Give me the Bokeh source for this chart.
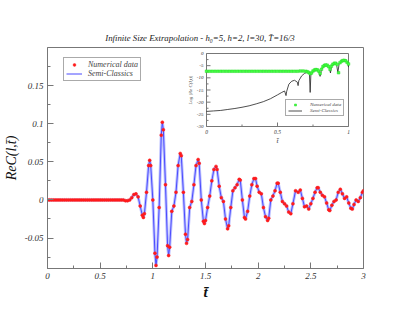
from bokeh.plotting import figure
from bokeh.models import Range1d, FixedTicker, Legend, LegendItem, LinearAxis
from bokeh.core.properties import value
from bokeh.embed import file_html
from bokeh.resources import INLINE
import math

# ---------------- data ----------------
t_num = [0.00, 0.02, 0.04, 0.06, 0.08, 0.10, 0.12, 0.14, 0.16, 0.18,
         0.20, 0.22, 0.24, 0.26, 0.28, 0.30, 0.32, 0.34, 0.36, 0.38,
         0.40, 0.42, 0.44, 0.46, 0.48, 0.50, 0.52, 0.54, 0.56, 0.58,
         0.60, 0.62, 0.64, 0.66, 0.68, 0.70, 0.72, 0.74, 0.76, 0.78,
         0.80, 0.82, 0.84, 0.86, 0.88, 0.90, 0.91, 0.92, 0.94, 0.96,
         0.97, 0.98, 1.00, 1.02, 1.03, 1.04, 1.06, 1.08, 1.09, 1.10,
         1.12, 1.14, 1.15, 1.16, 1.18, 1.20, 1.22, 1.24, 1.26, 1.27,
         1.29, 1.31, 1.32, 1.33, 1.35, 1.37, 1.39, 1.41, 1.43, 1.44,
         1.46, 1.48, 1.49, 1.50, 1.52, 1.54, 1.56, 1.58, 1.60, 1.61,
         1.63, 1.65, 1.67, 1.69, 1.71, 1.72, 1.74, 1.76, 1.78, 1.80,
         1.82, 1.83, 1.85, 1.87, 1.88, 1.90, 1.92, 1.94, 1.96, 1.975,
         1.99, 2.01, 2.03, 2.05, 2.07, 2.09, 2.10, 2.12, 2.14, 2.16,
         2.18, 2.19, 2.21, 2.23, 2.25, 2.27, 2.29, 2.31, 2.33, 2.355,
         2.38, 2.40, 2.42, 2.44, 2.46, 2.48, 2.50, 2.52, 2.54, 2.56,
         2.57, 2.59, 2.61, 2.63, 2.65, 2.67, 2.68, 2.70, 2.72, 2.74,
         2.76, 2.78, 2.80, 2.82, 2.84, 2.86, 2.88, 2.894, 2.91, 2.93,
         2.95, 2.97, 2.99, 3.00]
re_c = [0.000, 0.000, 0.000, 0.000, 0.000, 0.000, 0.000, 0.000, 0.000, 0.000,
        0.000, 0.000, 0.000, 0.000, 0.000, 0.000, 0.000, 0.000, 0.000, 0.000,
        0.000, 0.000, 0.000, 0.000, 0.000, 0.000, 0.000, 0.000, 0.000, 0.000,
        0.000, 0.000, 0.000, 0.000, 0.000, 0.000, 0.000, -0.001, -0.001, 0.000,
        0.003, 0.007, 0.008, 0.004, -0.008, -0.020, -0.023, -0.018, 0.010, 0.045,
        0.052, 0.045, 0.000, -0.070, -0.086, -0.075, -0.010, 0.085, 0.102, 0.092,
        0.020, -0.060, -0.073, -0.062, -0.015, -0.008, 0.010, 0.045, 0.061, 0.058,
        0.010, -0.045, -0.057, -0.052, -0.010, -0.002, 0.020, 0.045, 0.053, 0.048,
        0.000, -0.028, -0.031, -0.027, -0.010, 0.005, 0.025, 0.040, 0.044, 0.040,
        0.018, 0.003, -0.002, -0.025, -0.038, -0.034, -0.010, 0.012, 0.016, 0.020,
        0.027, 0.026, 0.000, -0.023, -0.025, -0.015, 0.005, 0.020, 0.028, 0.028,
        0.018, 0.010, 0.008, -0.010, -0.022, -0.027, -0.024, 0.000, 0.005, 0.012,
        0.022, 0.022, 0.010, -0.002, -0.005, -0.008, -0.016, -0.018, -0.005, 0.012,
        0.010, 0.013, 0.002, -0.009, -0.008, -0.012, -0.005, 0.002, 0.010, 0.016,
        0.016, 0.010, 0.006, 0.004, -0.004, -0.013, -0.014, -0.007, -0.002, 0.000,
        0.010, 0.014, 0.008, 0.002, 0.004, -0.004, -0.011, -0.012, -0.006, 0.000,
        -0.002, 0.003, 0.010, 0.012]

# inset: log |Re C|
ins_t_num = [0.00, 0.02, 0.04, 0.06, 0.08, 0.10, 0.12, 0.14, 0.16, 0.18,
             0.20, 0.22, 0.24, 0.26, 0.28, 0.30, 0.32, 0.34, 0.36, 0.38,
             0.40, 0.42, 0.44, 0.46, 0.48, 0.50, 0.52, 0.54, 0.56, 0.58,
             0.60, 0.62, 0.64, 0.66, 0.68, 0.70, 0.71, 0.72, 0.73, 0.74,
             0.75, 0.76, 0.77, 0.78, 0.79, 0.80, 0.81, 0.82, 0.83, 0.84,
             0.85, 0.86, 0.87, 0.88, 0.89, 0.90, 0.91, 0.92, 0.93, 0.94,
             0.95, 0.96, 0.97, 0.98, 0.99, 1.00]
ins_log_num = [-7.3, -7.3, -7.3, -7.3, -7.3, -7.3, -7.3, -7.3, -7.3, -7.3,
               -7.3, -7.3, -7.3, -7.3, -7.3, -7.3, -7.3, -7.3, -7.3, -7.3,
               -7.3, -7.3, -7.3, -7.3, -7.3, -7.3, -7.3, -7.3, -7.3, -7.3,
               -7.3, -7.3, -7.3, -7.2, -7.2, -7.3, -7.5, -7.8, -8.3, -8.0,
               -7.2, -6.8, -6.6, -6.7, -7.2, -8.2, -6.5, -5.4, -4.9, -4.7,
               -4.8, -5.4, -6.5, -5.2, -4.4, -4.0, -4.0, -4.5, -7.9, -3.8,
               -3.2, -2.9, -2.8, -3.0, -3.6, -4.3]
ins_t_sc = [0.00, 0.05, 0.10, 0.15, 0.20, 0.25, 0.30, 0.35, 0.40, 0.45,
            0.50, 0.53, 0.55, 0.56, 0.565, 0.58, 0.60, 0.62, 0.64, 0.645,
            0.65, 0.67, 0.69, 0.71, 0.725, 0.73, 0.735, 0.75, 0.77, 0.79,
            0.80, 0.81, 0.83, 0.85, 0.865, 0.873, 0.88, 0.90, 0.915, 0.925,
            0.935, 0.96, 0.98, 0.995, 1.00]
ins_log_sc = [-23.8, -23.6, -23.4, -23.0, -22.6, -22.1, -21.5, -20.7, -19.8, -18.6,
              -17.0, -16.0, -15.4, -17.3, -15.5, -12.6, -11.4, -11.0, -11.8, -13.2,
              -11.2, -9.2, -8.2, -7.7, -8.5, -16.0, -8.6, -7.2, -6.6, -7.3,
              -9.4, -6.5, -4.9, -4.8, -5.8, -8.0, -5.2, -4.0, -4.2, -7.8,
              -3.9, -2.9, -3.0, -3.9, -5.6]

x_ticks = [0, 0.5, 1, 1.5, 2, 2.5, 3]
x_labels = ["0", "0.5", "1", "1.5", "2", "2.5", "3"]
y_ticks = [-0.05, 0, 0.05, 0.1, 0.15]
y_labels = ["-0.05", "0", "0.05", "0.1", "0.15"]
ins_x_ticks = [0, 0.5, 1]
ins_x_labels = ["0", "0.5", "1"]
ins_y_ticks = [0, -5, -10, -15, -20, -25, -30]
ins_y_labels = ["0", "-5", "-10", "-15", "-20", "-25", "-30"]
title_text = "Infinite Size Extrapolation  -  h\u2080=5,  h=2,  l=30,  T\u0304=16/3"

# ---------------- layout constants (canvas px; canvas sits at page origin) ----------------
W, H = 405, 312
FL, FR, FT, FB = 47, 363, 47, 268          # main frame
IL, IR, IT, IB = 206, 348, 53, 126         # inset frame
XR = (0, 3)
YR = (-0.09, 0.2)
SERIF = "Liberation Serif"
AX = "#777777"

p = figure(width=W, height=H, x_range=Range1d(*XR), y_range=Range1d(*YR),
           output_backend="svg", toolbar_location=None,
           min_border_left=FL, min_border_right=W - FR,
           min_border_top=FT, min_border_bottom=H - FB)
p.grid.visible = False
p.outline_line_color = AX
p.background_fill_color = "white"
p.border_fill_color = "white"

# title carried by an empty axis above the frame (sits right against the frame)
tax = LinearAxis(ticker=FixedTicker(ticks=[]), axis_label=title_text)
tax.axis_line_color = None
tax.major_tick_line_color = None
tax.minor_tick_line_color = None
tax.major_label_text_font_size = "8px"
tax.axis_label_text_font = SERIF
tax.axis_label_text_font_style = "italic"
tax.axis_label_text_font_size = "8.8px"
tax.axis_label_text_color = "#222222"
tax.axis_label_standoff = 5
p.add_layout(tax, "above")

x_minor = [(a + b) / 2 for a, b in zip(x_ticks[:-1], x_ticks[1:])]
y_step = y_ticks[1] - y_ticks[0]
y_minor = [y_ticks[0] - y_step / 2] + [(a + b) / 2 for a, b in zip(y_ticks[:-1], y_ticks[1:])] + [y_ticks[-1] + y_step / 2]
p.below[0].ticker = FixedTicker(ticks=x_ticks, minor_ticks=x_minor)
p.left[0].ticker = FixedTicker(ticks=y_ticks, minor_ticks=y_minor)
p.below[0].major_label_overrides = {k: v for k, v in zip(x_ticks, x_labels)}
p.left[0].major_label_overrides = {k: v for k, v in zip(y_ticks, y_labels)}

xax = p.below[0]
yax = p.left[0]
for ax in (xax, yax):
    ax.axis_line_color = AX
    ax.major_tick_line_color = AX
    ax.minor_tick_line_color = AX
    ax.major_tick_in = 6
    ax.major_tick_out = 0
    ax.minor_tick_in = 3
    ax.minor_tick_out = 0
    ax.major_label_text_font = SERIF
    ax.major_label_text_font_style = "italic"
    ax.major_label_text_font_size = "9px"
    ax.major_label_text_color = "#333333"
    ax.axis_label_text_font = SERIF
    ax.axis_label_text_font_style = "italic"
    ax.axis_label_text_color = "#111111"
xax.major_label_standoff = 4
yax.major_label_standoff = 4
xax.axis_label = "t\u0304"
xax.axis_label_text_font_size = "15px"
xax.axis_label_text_font_style = "bold italic"
xax.axis_label_standoff = 2
yax.axis_label = "ReC(l,t\u0304)"
yax.axis_label_text_font_size = "14px"
yax.axis_label_standoff = 3

# main curves
halo = p.line(t_num, re_c, line_color="#bcc0ff", line_width=3)
blue = p.line(t_num, re_c, line_color="#4a4aff", line_width=1)
red = p.scatter(t_num, re_c, marker="circle", size=3, fill_color="#ff1a1a",
                line_color="#ff1a1a", line_width=0.5)

leg = Legend(items=[LegendItem(label="Numerical data", renderers=[red]),
                    LegendItem(label="Semi-Classics", renderers=[blue])],
             location=(63 - FL, FB - 81))
leg.label_text_font = SERIF
leg.label_text_font_style = "italic"
leg.label_text_font_size = "8px"
leg.label_height = 7
leg.glyph_height = 7
leg.glyph_width = 16
leg.label_standoff = 6
leg.spacing = 0
leg.padding = 2
leg.margin = 0
leg.border_line_color = "#555555"
leg.background_fill_alpha = 1
p.add_layout(leg, "center")

# ---------------- inset (drawn on extra ranges mapped onto its box) ----------------
ix0, ix1 = ins_x_ticks[0], ins_x_ticks[-1]
iy0, iy1 = ins_y_ticks[-1], ins_y_ticks[0]
sx = (IR - IL) / (ix1 - ix0)
sy = (IB - IT) / (iy1 - iy0)
p.extra_x_ranges = {"ix": Range1d(ix0 - (IL - FL) / sx, ix1 + (FR - IR) / sx)}
p.extra_y_ranges = {"iy": Range1d(iy0 - (FB - IB) / sy, iy1 + (IT - FT) / sy)}
kw = dict(x_range_name="ix", y_range_name="iy")

p.quad(left=[ix0], right=[ix1], bottom=[iy0], top=[iy1], fill_color="white",
       line_color=AX, line_width=1, **kw)

maj_y = ins_y_ticks
min_y = [(a + b) / 2 for a, b in zip(ins_y_ticks[:-1], ins_y_ticks[1:])]
p.segment(x0=[ix0] * len(maj_y), x1=[ix0 + 4 / sx] * len(maj_y), y0=maj_y, y1=maj_y,
          line_color=AX, line_width=1, **kw)
p.segment(x0=[ix0] * len(min_y), x1=[ix0 + 2 / sx] * len(min_y), y0=min_y, y1=min_y,
          line_color=AX, line_width=1, **kw)
min_x = [(a + b) / 2 for a, b in zip(ins_x_ticks[:-1], ins_x_ticks[1:])]
p.segment(x0=ins_x_ticks, x1=ins_x_ticks, y0=[iy0] * 3, y1=[iy0 + 4 / sy] * 3,
          line_color=AX, line_width=1, **kw)
p.segment(x0=min_x, x1=min_x, y0=[iy0] * len(min_x), y1=[iy0 + 2 / sy] * len(min_x),
          line_color=AX, line_width=1, **kw)

tkw = dict(text_font=value(SERIF), text_font_style="italic", text_color="#333333")
p.text(x=[ix0 - 3 / sx] * len(ins_y_ticks), y=ins_y_ticks, text=ins_y_labels,
       text_font_size=value("5px"), text_align="right", text_baseline="middle", **tkw, **kw)
p.text(x=ins_x_ticks, y=[iy0 - 3 / sy] * 3, text=ins_x_labels,
       text_font_size=value("5.5px"), text_align="center", text_baseline="top", **tkw, **kw)
p.text(x=[(ix0 + ix1) / 2], y=[iy0 - 10 / sy], text=["t\u0304"],
       text_font_size=value("7px"), text_align="center", text_baseline="top", **tkw, **kw)
p.text(x=[ix0 - 14 / sx], y=[(iy0 + iy1) / 2], text=["Log |Re C(l,t)|"], angle=math.pi / 2,
       text_font_size=value("5px"), text_align="center", text_baseline="bottom", **tkw, **kw)

black = p.line(ins_t_sc, ins_log_sc, line_color="#222222", line_width=0.8, **kw)
green = p.scatter(ins_t_num, ins_log_num, marker="square", size=2.6, fill_color="#44ff44",
                  line_color="#22dd22", line_width=0.5, **kw)

ileg = Legend(items=[LegendItem(label="Numerical data", renderers=[green]),
                     LegendItem(label="Semi-Classics", renderers=[black])],
              location=(285 - FL, FB - 116))
ileg.label_text_font = SERIF
ileg.label_text_font_style = "italic"
ileg.label_text_font_size = "5px"
ileg.label_height = 5
ileg.glyph_height = 5
ileg.glyph_width = 14
ileg.label_standoff = 8
ileg.spacing = 1
ileg.padding = 2
ileg.margin = 0
ileg.border_line_color = "#555555"
p.add_layout(ileg, "center")

open("out.html", "w").write(file_html(p, INLINE))
